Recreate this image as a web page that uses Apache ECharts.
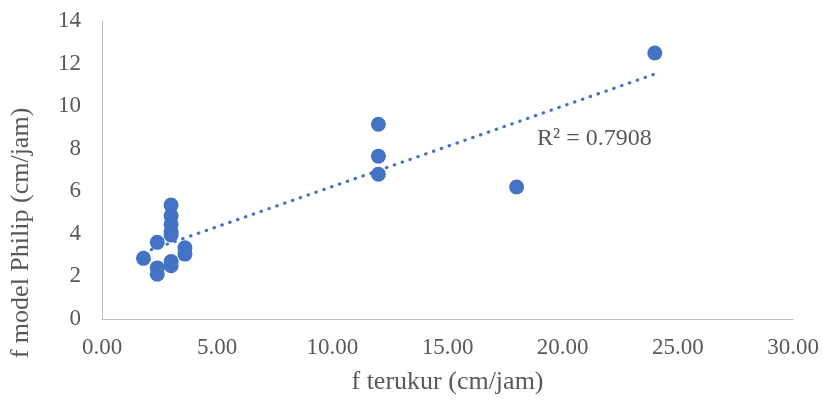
<!DOCTYPE html>
<html>
<head>
<meta charset="utf-8">
<script src="https://cdn.jsdelivr.net/npm/echarts@6/dist/echarts.min.js"></script>
<style>
  html, body { margin: 0; padding: 0; background: #fff; }
  #chart { width: 823px; height: 400px; }
</style>
</head>
<body>
<div id="chart"></div>
<script>
// f terukur (x) vs f model Philip (y), cm/jam
const xMeasured = [1.8, 2.4, 2.4, 2.4, 3.0, 3.0, 3.0, 3.0, 3.0, 3.0, 3.0, 3.6, 3.6, 12, 12, 12, 18, 24];
const yPhilip   = [2.85, 3.6, 2.4, 2.1, 5.35, 4.85, 4.45, 4.1, 3.95, 2.7, 2.5, 3.35, 3.05, 9.15, 7.65, 6.8, 6.2, 12.5];
const rSquaredText = 'R² = 0.7908';

const xTicks = { min: 0, max: 30, interval: 5 };
const yTicks = { min: 0, max: 14, interval: 2 };

// least squares trend line
function linearFit (xs, ys) {
    const n = xs.length;
    let sx = 0, sy = 0, sxx = 0, sxy = 0;
    for (let i = 0; i < n; i++) {
        sx += xs[i]; sy += ys[i];
        sxx += xs[i] * xs[i]; sxy += xs[i] * ys[i];
    }
    const slope = (n * sxy - sx * sy) / (n * sxx - sx * sx);
    const intercept = (sy - slope * sx) / n;
    return { slope, intercept };
}

const fit = linearFit(xMeasured, yPhilip);
const xMin = Math.min(...xMeasured);
const xMax = Math.max(...xMeasured);
const trendData = [
    [xMin, fit.intercept + fit.slope * xMin],
    [xMax, fit.intercept + fit.slope * xMax]
];

const points = xMeasured.map((x, i) => [x, yPhilip[i]]);

const font = 'Liberation Serif';
const textColor = '#595959';
const blue = '#4472C4';

const chart = echarts.init(document.getElementById('chart'));
chart.setOption({
    animation: false,
    backgroundColor: '#fff',
    grid: { left: 101, right: 30, top: 21, bottom: 80 },
    xAxis: {
        type: 'value',
        min: xTicks.min, max: xTicks.max, interval: xTicks.interval,
        name: 'f terukur (cm/jam)',
        nameLocation: 'middle',
        nameGap: 50,
        nameTextStyle: { fontFamily: font, fontSize: 26, color: textColor },
        axisLine: { show: true, lineStyle: { color: '#bfbfbf', width: 1 } },
        axisTick: { show: false },
        splitLine: { show: false },
        axisLabel: {
            fontFamily: font, fontSize: 23, color: textColor, margin: 17,
            formatter: v => v.toFixed(2)
        }
    },
    yAxis: {
        type: 'value',
        min: yTicks.min, max: yTicks.max, interval: yTicks.interval,
        name: 'f model Philip (cm/jam)',
        nameLocation: 'middle',
        nameGap: 68,
        // title sits lower than the plot centre in the original
        nameTextStyle: { fontFamily: font, fontSize: 26, color: textColor, padding: [0, 126, 0, 0] },
        axisLine: { show: true, onZero: false, lineStyle: { color: '#bfbfbf', width: 1 } },
        axisTick: { show: false },
        splitLine: { show: false },
        axisLabel: { fontFamily: font, fontSize: 23, color: textColor, margin: 21 }
    },
    series: [
        {
            type: 'line',
            data: trendData,
            symbol: 'none',
            silent: true,
            z: 3,
            lineStyle: { color: blue, width: 3.2, type: [0.5, 7.8], cap: 'round' }
        },
        {
            type: 'scatter',
            data: points,
            symbol: 'circle',
            symbolSize: 15,
            z: 2,
            itemStyle: { color: blue, opacity: 1 }
        }
    ],
    graphic: [
        {
            type: 'text',
            left: 537,
            top: 127,
            style: { text: rSquaredText, fontFamily: font, fontSize: 24, fill: textColor }
        }
    ]
});
</script>
</body>
</html>
